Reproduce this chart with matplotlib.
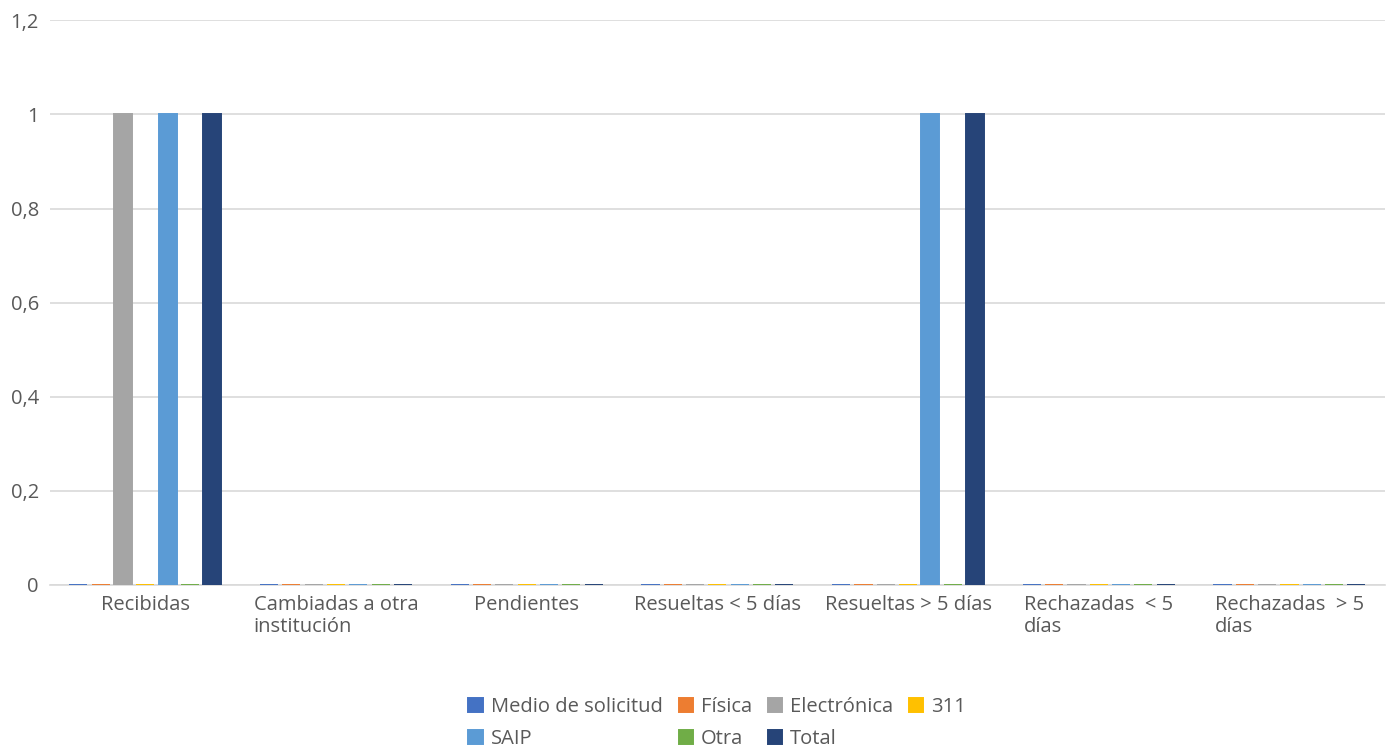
import matplotlib.pyplot as plt
import numpy as np

plt.rcParams['font.family'] = ['Open Sans', 'DejaVu Sans']

categories = ['Recibidas', 'Cambiadas a otra\ninstitución', 'Pendientes',
              'Resueltas < 5 días', 'Resueltas > 5 días',
              'Rechazadas  < 5\ndías', 'Rechazadas  > 5\ndías']
series_names = ['Medio de solicitud', 'Física', 'Electrónica', '311', 'SAIP', 'Otra', 'Total']
medio = [0, 0, 0, 0, 0, 0, 0]
fisica = [0, 0, 0, 0, 0, 0, 0]
electronica = [1, 0, 0, 0, 0, 0, 0]
s311 = [0, 0, 0, 0, 0, 0, 0]
saip = [1, 0, 0, 0, 1, 0, 0]
otra = [0, 0, 0, 0, 0, 0, 0]
total = [1, 0, 0, 0, 1, 0, 0]
colors = ['#4472C4', '#ED7D31', '#A5A5A5', '#FFC000', '#5B9BD5', '#70AD47', '#264478']

values = [medio, fisica, electronica, s311, saip, otra, total]

fig = plt.figure(figsize=(13.89, 7.5), dpi=100)
ax = fig.add_axes([0.036, 0.22, 0.961, 0.753])

x = np.arange(len(categories))
slot = 0.117
width = 0.095
handles = []
for i, (name, vals, c) in enumerate(zip(series_names, values, colors)):
    off = (i - 3) * slot
    b = ax.bar(x + off, vals, width, color=c, edgecolor=c, linewidth=1.4, label=name, zorder=3)
    handles.append(b)

ax.set_ylim(0, 1.2)
ax.set_xlim(-0.5, len(categories) - 0.5)
ax.set_yticks([0, 0.2, 0.4, 0.6, 0.8, 1.0, 1.2])
ax.set_yticklabels(['0', '0,2', '0,4', '0,6', '0,8', '1', '1,2'])
ax.yaxis.grid(True, color='#d9d9d9', linewidth=1.2, zorder=0)
ax.set_axisbelow(True)
for s in ['top', 'right', 'left']:
    ax.spines[s].set_visible(False)
ax.spines['bottom'].set_color('#d9d9d9')
ax.spines['bottom'].set_linewidth(1.2)
ax.tick_params(axis='both', length=0, colors='#595959', labelsize=14.5)
ax.tick_params(axis='y', pad=8)
ax.tick_params(axis='x', pad=7)
ax.set_xticks(x)
ax.set_xticklabels(categories, multialignment='left', linespacing=1.15)

order = [0, 4, 1, 5, 2, 6, 3]
ax.legend([handles[i] for i in order], [series_names[i] for i in order],
          loc='center', bbox_to_anchor=(0.5, -0.245), ncol=4, frameon=False,
          fontsize=14.5, labelcolor='#595959', handlelength=0.7, handleheight=0.7,
          handletextpad=0.4, columnspacing=0.8, labelspacing=0.6)

fig.savefig('out.png', dpi=100)
